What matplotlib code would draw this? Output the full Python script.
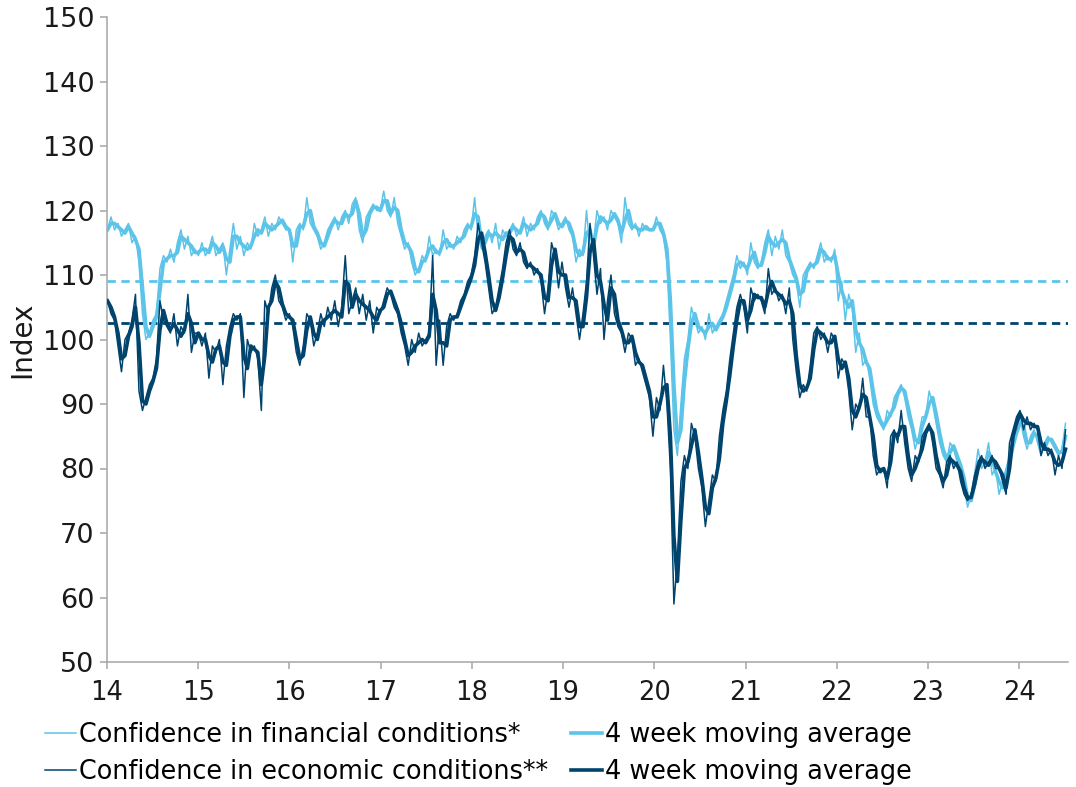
import numpy as np
import pandas as pd
import matplotlib
matplotlib.use("Agg")
import matplotlib.pyplot as plt

# ---- data: bi-weekly readings (index), one list per year ----
fin_2014 = [117, 119, 117, 118, 116, 117, 118, 115, 116, 112, 104, 100, 101, 103, 104, 111, 113, 112, 114, 112, 115, 117, 114, 116, 113, 114]
fin_2015 = [113, 115, 113, 114, 116, 113, 114, 115, 110, 114, 118, 114, 116, 113, 115, 114, 118, 116, 117, 119, 116, 118, 117, 119, 118, 117]
fin_2016 = [117, 112, 117, 118, 117, 122, 118, 117, 116, 114, 115, 117, 118, 119, 117, 119, 120, 118, 121, 122, 117, 115, 119, 120, 121, 120]
fin_2017 = [120, 123, 120, 119, 122, 118, 116, 114, 115, 112, 110, 111, 113, 112, 116, 113, 114, 113, 117, 114, 115, 114, 116, 115, 117, 118]
fin_2018 = [117, 122, 116, 114, 116, 117, 115, 118, 114, 117, 116, 117, 118, 116, 117, 119, 116, 118, 117, 119, 120, 118, 117, 120, 119, 117]
fin_2019 = [118, 119, 117, 116, 112, 114, 113, 120, 114, 115, 120, 118, 119, 117, 120, 119, 118, 115, 122, 118, 117, 118, 116, 118, 117, 117]
fin_2020 = [117, 119, 117, 116, 112, 100, 86, 82, 90, 97, 100, 105, 103, 101, 102, 100, 104, 101, 102, 103, 104, 106, 108, 110, 113, 111]
fin_2021 = [112, 110, 115, 112, 111, 112, 115, 117, 113, 116, 114, 117, 113, 112, 110, 109, 105, 110, 111, 112, 111, 113, 115, 112, 113, 112]
fin_2022 = [114, 106, 109, 103, 107, 105, 98, 101, 96, 97, 94, 90, 88, 87, 86, 89, 88, 91, 92, 93, 91, 88, 86, 83, 85, 88]
fin_2023 = [88, 92, 90, 87, 84, 82, 81, 84, 83, 81, 80, 77, 74, 76, 79, 83, 80, 81, 84, 79, 80, 76, 78, 80, 82, 85]
fin_2024 = [86, 88, 85, 83, 85, 86, 84, 82, 84, 85, 84, 83, 82, 83, 87]

econ_2014 = [106, 104, 103, 99, 95, 100, 101, 103, 107, 92, 89, 91, 93, 94, 97, 106, 103, 102, 101, 104, 99, 102, 101, 107, 98, 101]
econ_2015 = [101, 99, 101, 94, 99, 98, 100, 93, 99, 102, 104, 103, 104, 91, 100, 98, 99, 97, 89, 106, 104, 108, 110, 106, 105, 103]
econ_2016 = [104, 102, 98, 96, 99, 104, 103, 99, 101, 104, 102, 105, 103, 106, 102, 105, 113, 104, 106, 108, 104, 107, 103, 106, 101, 105]
econ_2017 = [104, 106, 108, 107, 105, 104, 101, 99, 96, 100, 98, 101, 99, 100, 101, 113, 96, 103, 96, 102, 104, 103, 104, 106, 107, 109]
econ_2018 = [110, 113, 118, 115, 112, 108, 104, 105, 108, 111, 115, 117, 114, 113, 115, 112, 111, 112, 110, 111, 109, 104, 108, 115, 113, 108]
econ_2019 = [112, 108, 105, 108, 104, 100, 104, 109, 118, 113, 107, 111, 100, 106, 110, 104, 102, 101, 98, 101, 100, 96, 97, 95, 93, 91]
econ_2020 = [85, 91, 89, 96, 90, 80, 59, 66, 78, 82, 80, 87, 85, 80, 77, 71, 75, 79, 78, 85, 89, 92, 97, 101, 105, 107]
econ_2021 = [105, 101, 108, 106, 107, 106, 104, 111, 107, 108, 106, 107, 104, 108, 100, 95, 91, 93, 92, 96, 101, 102, 100, 101, 98, 101]
econ_2022 = [100, 94, 97, 96, 92, 86, 90, 89, 94, 88, 88, 82, 79, 80, 80, 77, 85, 86, 84, 89, 84, 80, 78, 82, 81, 85]
econ_2023 = [86, 87, 84, 80, 79, 77, 81, 82, 80, 81, 78, 76, 75, 76, 79, 81, 82, 80, 81, 82, 80, 80, 78, 76, 84, 86]
econ_2024 = [88, 89, 86, 88, 86, 87, 86, 82, 84, 82, 83, 79, 82, 80, 86]

fin_avg = 109.0
econ_avg = 102.6

years = list(range(2014, 2025))
year_labels = ["14", "15", "16", "17", "18", "19", "20", "21", "22", "23", "24"]
labels = ["Confidence in financial conditions*",
          "Confidence in economic conditions**",
          "4 week moving average",
          "4 week moving average"]

fin = np.concatenate([fin_2014, fin_2015, fin_2016, fin_2017, fin_2018, fin_2019,
                      fin_2020, fin_2021, fin_2022, fin_2023, fin_2024]).astype(float)
econ = np.concatenate([econ_2014, econ_2015, econ_2016, econ_2017, econ_2018, econ_2019,
                       econ_2020, econ_2021, econ_2022, econ_2023, econ_2024]).astype(float)
dates = pd.date_range("2014-01-03", periods=len(fin), freq="14D")
fin_ma = pd.Series(fin).rolling(2, min_periods=1).mean().values
econ_ma = pd.Series(econ).rolling(2, min_periods=1).mean().values

LIGHT = "#5BC4E8"
DARK = "#00446E"
GRID = "#A6A6A6"
TXT = "#1a1a1a"

plt.rcParams["font.family"] = ["DejaVu Sans"]
fig = plt.figure(figsize=(10.76, 7.87), dpi=100)
ax = fig.add_axes([107 / 1076, 1 - 662 / 787, (1068 - 107) / 1076, (662 - 17) / 787])

ax.axhline(fin_avg, color=LIGHT, lw=2.0, ls=(0, (3, 2)), zorder=1)
ax.axhline(econ_avg, color=DARK, lw=2.0, ls=(0, (3, 2)), zorder=1)

h1, = ax.plot(dates, fin, color=LIGHT, lw=1.1, zorder=2)
h3, = ax.plot(dates, fin_ma, color=LIGHT, lw=2.6, zorder=3)
h2, = ax.plot(dates, econ, color=DARK, lw=1.1, zorder=4)
h4, = ax.plot(dates, econ_ma, color=DARK, lw=2.6, zorder=5)

ax.set_ylim(50, 150)
ax.set_yticks(range(50, 151, 10))
ax.set_xlim(pd.Timestamp("2014-01-01"), pd.Timestamp("2024-07-15"))
ax.set_xticks([pd.Timestamp(f"{y}-01-01") for y in years])
ax.set_xticklabels(year_labels)

for s in ["top", "right"]:
    ax.spines[s].set_visible(False)
for s in ["left", "bottom"]:
    ax.spines[s].set_color(GRID)
    ax.spines[s].set_linewidth(1.1)
ax.tick_params(axis="both", direction="out", length=5, width=1.1, color=GRID,
               labelcolor=TXT)
ax.tick_params(axis="x", pad=8, labelsize=18.5)
ax.tick_params(axis="y", pad=4, labelsize=19.5)

fig.text(22 / 1076, 1 - 339.5 / 787, "Index", rotation=90, ha="center", va="center",
         fontsize=20, color=TXT)

fig.legend([h1, h2, h3, h4], labels, loc="upper left",
           bbox_to_anchor=(45 / 1076, 1 - 722 / 787), ncol=2, frameon=False,
           fontsize=18.4, handlelength=1.2, handletextpad=0.12, columnspacing=0.9,
           labelspacing=0.42, borderpad=0, borderaxespad=0)

fig.savefig("out.png", dpi=100)
